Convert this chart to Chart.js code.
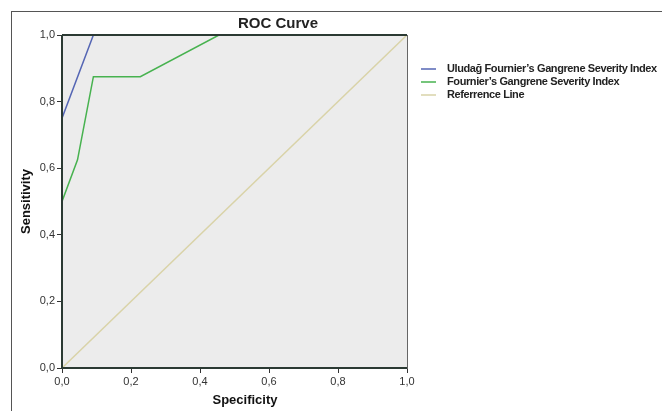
<!DOCTYPE html>
<html>
<head>
<meta charset="utf-8">
<script src="https://cdn.jsdelivr.net/npm/chart.js@4.4.0/dist/chart.umd.min.js"></script>
<style>
  html, body { margin: 0; padding: 0; background: #fff; }
  #wrap { position: relative; width: 662px; height: 411px; overflow: hidden; }
  #frame { position: absolute; left: 11px; top: 11px; width: 700px; height: 450px; border: 1px solid #555; box-sizing: border-box; }
  canvas { position: absolute; left: 0; top: 0; }
</style>
</head>
<body>
<div id="wrap">
  <div id="frame"></div>
  <canvas id="roc" width="662" height="411"></canvas>
</div>
<script>
  // ROC points: specificity axis (x) vs sensitivity (y)
  const uludagX = [0, 0, 0.091, 1];
  const uludagY = [0, 0.75, 1, 1];
  const fgsiX = [0, 0, 0.045, 0.091, 0.227, 0.455, 1];
  const fgsiY = [0, 0.5, 0.625, 0.875, 0.875, 1, 1];
  const refX = [0, 1];
  const refY = [0, 1];

  const seriesNames = [
    "Uludağ Fournier’s Gangrene Severity Index",
    "Fournier’s Gangrene Severity Index",
    "Referrence Line"
  ];
  const seriesColors = ["#5566b4", "#47b24f", "#d9d3a8"];

  const toPoints = (xs, ys) => xs.map((x, i) => ({ x: x, y: ys[i] }));
  const fmt = (v) => v.toFixed(1).replace(".", ",");

  // grey plot area + border
  const plotBox = {
    id: "plotBox",
    beforeDatasetsDraw(chart) {
      const { ctx, chartArea: a } = chart;
      ctx.save();
      ctx.fillStyle = "#ececec";
      ctx.fillRect(a.left, a.top, a.right - a.left, a.bottom - a.top);
      ctx.restore();
    },
    afterDatasetsDraw(chart) {
      const { ctx, chartArea: a } = chart;
      ctx.save();
      ctx.strokeStyle = "#666";
      ctx.lineWidth = 1;
      ctx.strokeRect(a.left + 0.5, a.top + 0.5, a.right - a.left, a.bottom - a.top);
      ctx.strokeStyle = "#2b3a33";
      ctx.lineWidth = 2;
      ctx.beginPath();
      ctx.moveTo(a.left, a.top);
      ctx.lineTo(a.left, a.bottom);
      ctx.lineTo(a.right, a.bottom);
      ctx.moveTo(a.left, a.top);
      ctx.lineTo(a.right, a.top);
      ctx.stroke();
      ctx.restore();
    }
  };

  // title, x axis title and legend drawn around the plot
  const sideLegend = {
    id: "sideLegend",
    afterDraw(chart) {
      const { ctx } = chart;
      ctx.save();
      ctx.fillStyle = "#222";
      ctx.font = "bold 15px 'Liberation Sans', Arial, sans-serif";
      ctx.textAlign = "center";
      ctx.textBaseline = "middle";
      ctx.fillText("ROC Curve", 278, 24);

      ctx.fillStyle = "#111";
      ctx.font = "bold 13px 'Liberation Sans', Arial, sans-serif";
      ctx.fillText("Specificity", 245, 400);

      ctx.font = "bold 11px 'Liberation Sans', Arial, sans-serif";
      ctx.letterSpacing = "-0.4px";
      ctx.textAlign = "left";
      chart.data.datasets.forEach((ds, i) => {
        const y = 69 + i * 13;
        ctx.strokeStyle = ds.borderColor;
        ctx.lineWidth = 1.5;
        ctx.beginPath();
        ctx.moveTo(421, y);
        ctx.lineTo(436, y);
        ctx.stroke();
        ctx.fillStyle = "#222";
        ctx.fillText(ds.label, 447, y);
      });
      ctx.restore();
    }
  };

  const datasets = [
    { label: seriesNames[0], data: toPoints(uludagX, uludagY), borderColor: seriesColors[0] },
    { label: seriesNames[1], data: toPoints(fgsiX, fgsiY), borderColor: seriesColors[1] },
    { label: seriesNames[2], data: toPoints(refX, refY), borderColor: seriesColors[2] }
  ].map((d, i) => Object.assign(d, {
    showLine: true,
    borderWidth: 1.5,
    pointRadius: 0,
    fill: false,
    order: 3 - i
  }));

  const tickFont = { family: "'Liberation Sans', Arial, sans-serif", size: 11 };
  const titleFont = { family: "'Liberation Sans', Arial, sans-serif", size: 13, weight: "bold" };

  new Chart(document.getElementById("roc"), {
    type: "scatter",
    data: { datasets: datasets },
    plugins: [plotBox, sideLegend],
    options: {
      responsive: false,
      animation: false,
      layout: { padding: { left: 0, top: 35, right: 255, bottom: 0 } },
      plugins: { legend: { display: false }, tooltip: { enabled: false } },
      scales: {
        x: {
          type: "linear", min: 0, max: 1,
          ticks: { stepSize: 0.2, callback: fmt, font: tickFont, color: "#333", padding: 2, maxRotation: 0 },
          grid: { drawOnChartArea: false, drawTicks: true, tickLength: 5, color: "#333" },
          border: { display: false },
          title: { display: false },
          afterFit: (s) => { s.height = 43; }
        },
        y: {
          type: "linear", min: 0, max: 1,
          ticks: { stepSize: 0.2, callback: fmt, font: tickFont, color: "#333", padding: 2 },
          grid: { drawOnChartArea: false, drawTicks: true, tickLength: 5, color: "#333" },
          border: { display: false },
          title: { display: true, text: "Sensitivity", font: titleFont, color: "#111", padding: { top: 19, bottom: 0 } },
          afterFit: (s) => { s.width = 62; }
        }
      }
    }
  });
</script>
</body>
</html>
